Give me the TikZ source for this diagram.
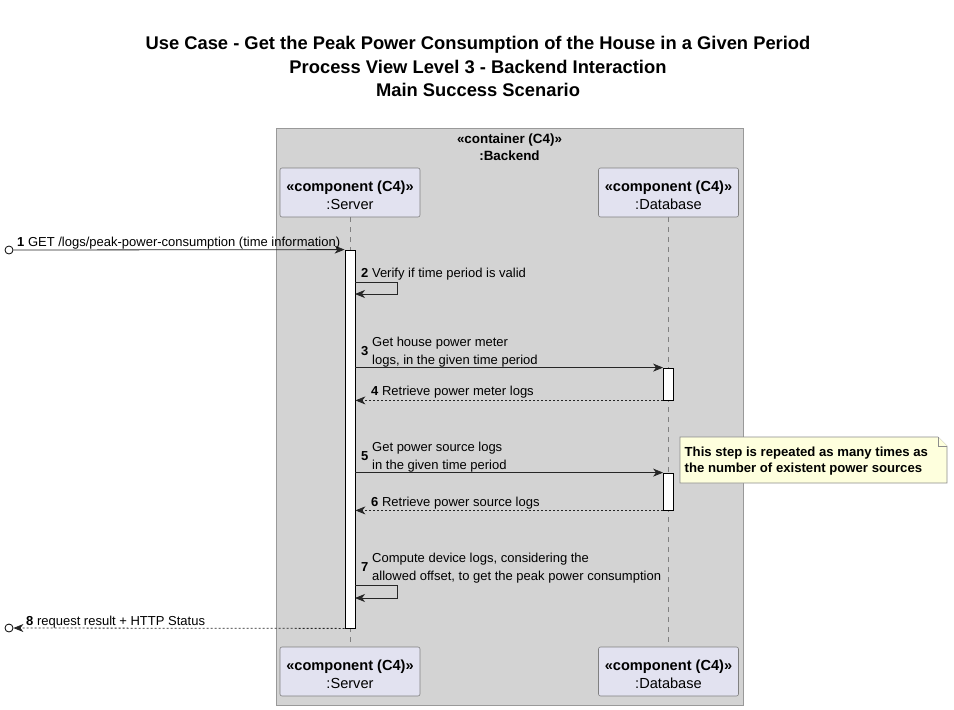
\documentclass[tikz,border=0pt]{standalone}
\usepackage{fontspec}
\setmainfont{Liberation Sans}
\usetikzlibrary{arrows.meta}
\definecolor{partfill}{HTML}{E2E2F0}
\definecolor{contfill}{HTML}{D3D3D3}
\definecolor{notefill}{HTML}{FEFFDD}
\begin{document}
\begin{tikzpicture}[x=1pt,y=-1pt,
  ttl/.style={font=\bfseries\fontsize{18.35}{22}\selectfont,inner sep=0pt,anchor=base},
  cont/.style={draw=black!40,fill=contfill,line width=0.8pt,minimum width=467pt,minimum height=577pt,inner sep=0pt},
  part/.style={draw=black!50,fill=partfill,rounded corners=2pt,line width=0.6pt,minimum width=140pt,minimum height=49pt,inner sep=0pt,align=center,font=\fontsize{14.6}{18}\selectfont},
  life/.style={draw=black!50,line width=0.6pt,dash pattern=on 5pt off 5pt},
  act/.style={draw=black,fill=white,line width=0.8pt,minimum width=10pt,inner sep=0pt},
  endpt/.style={circle,draw=black,fill=white,line width=0.8pt,minimum size=8pt,inner sep=0pt},
  msg/.style={draw=black!85,line width=0.8pt,-{Stealth[length=10pt,width=8pt,inset=3pt]}},
  reply/.style={msg,dash pattern=on 2pt off 2pt},
  lbl/.style={font=\fontsize{13}{18}\selectfont,inner sep=0pt,anchor=base west},
  lbl2/.style={font=\fontsize{13}{18}\selectfont,inner sep=0pt,anchor=west,align=left},
  notebox/.style={draw=black!45,fill=notefill,line width=0.6pt},
  notetxt/.style={font=\bfseries\fontsize{13.15}{16}\selectfont,inner sep=0pt,anchor=west,align=left}]
\useasboundingbox (0,0) rectangle (954,710);

% titles
\node[ttl] (t1) at (478,49.5) {Use Case - Get the Peak Power Consumption of the House in a Given Period};
\node[ttl] (t2) at (478,73.5) {Process View Level 3 - Backend Interaction};
\node[ttl] (t3) at (478,96.5) {Main Success Scenario};

% container
\node[cont] (bk) at (509.5,416.5) {};
\node[font=\bfseries\fontsize{13.4}{17}\selectfont,align=center,inner sep=0pt] (bkl) at (509.5,147.5) {«container (C4)»\\:Backend};

% participants
\node[part] (sv) at (350,192.5) {\rule{0pt}{17pt}\textbf{«component (C4)»}\\:Server};
\node[part] (db) at (668.5,192.5) {\rule{0pt}{17pt}\textbf{«component (C4)»}\\:Database};
\node[part] (svb) at (350,671.5) {\rule{0pt}{17pt}\textbf{«component (C4)»}\\:Server};
\node[part] (dbb) at (668.5,671.5) {\rule{0pt}{17pt}\textbf{«component (C4)»}\\:Database};
\draw[life] (sv) -- (svb);
\draw[life] (db) -- (dbb);

% activations
\node[act,minimum height=378pt] (sa) at (350,439) {};
\node[act,minimum height=32pt] (da1) at (668.5,384) {};
\node[act,minimum height=37pt] (da2) at (668.5,491.5) {};

% outside ends
\node[endpt] (u1) at (9,250) {};
\node[endpt] (u8) at (9,628) {};

% messages
\draw[msg] (u1) -- (sa.north west);
\node[lbl] (l1) at (17,246.5) {\textbf{1} GET /logs/peak-power-consumption (time information)};

\coordinate (m2) at (355,282);
\draw[msg] (m2) -- ++(42,0) -- ++(0,12) -- ++(-42,0);
\node[lbl] (l2) at (361,277.5) {\textbf{2} Verify if time period is valid};

\draw[msg] (sa.east |- da1.north) -- (da1.north west);
\node[lbl] (n3) at (361,355.5) {\textbf{3}};
\node[lbl2] (l3) at (372,352) {Get house power meter\\logs, in the given time period};

\draw[reply] (da1.south west) -- (sa.east |- da1.south);
\node[lbl] (l4) at (371,395.5) {\textbf{4} Retrieve power meter logs};

\draw[msg] (sa.east |- da2.north) -- (da2.north west);
\node[lbl] (n5) at (361,460.5) {\textbf{5}};
\node[lbl2] (l5) at (372,457) {Get power source logs\\in the given time period};

\draw[reply] (da2.south west) -- (sa.east |- da2.south);
\node[lbl] (l6) at (371,506.5) {\textbf{6} Retrieve power source logs};

\node[lbl] (n7) at (361,571.5) {\textbf{7}};
\node[lbl2] (l7) at (372,568) {Compute device logs, considering the\\allowed offset, to get the peak power consumption};
\coordinate (m7) at (355,585);
\draw[msg] (m7) -- ++(42,0) -- ++(0,13) -- ++(-42,0);

\draw[reply] (sa.south west) -- (u8);
\node[lbl] (l8) at (26,625.5) {\textbf{8} request result + HTTP Status};

% note
\draw[notebox] (680,437) -- (938,437) -- (947,446) -- (947,483) -- (680,483) -- cycle;
\draw[notebox] (938,437) -- (938,446) -- (947,446);
\node[notetxt] (nt) at (684.5,461) {This step is repeated as many times as\\the number of existent power sources};
\end{tikzpicture}
\end{document}
